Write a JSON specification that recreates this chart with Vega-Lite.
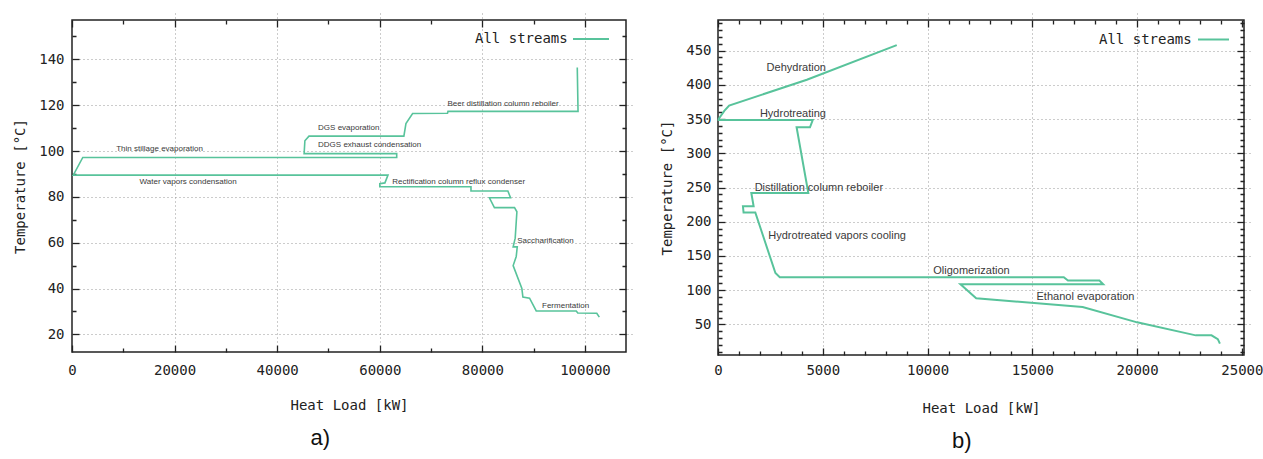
{
  "$schema": "https://vega.github.io/schema/vega-lite/v6.json",
  "background": "white",
  "padding": {"left": 12, "top": 15, "right": 0, "bottom": 0},
  "spacing": 31,
  "resolve": {"scale": {"color": "independent"}, "legend": {"color": "independent"}},
  "config": {
    "view": {"stroke": "#222", "strokeWidth": 1.5},
    "axis": {"domain": false, "ticks": true, "labelFont": "DejaVu Sans Mono", "labelFontSize": 14, "labelColor": "#222", "titleFont": "DejaVu Sans Mono", "titleFontSize": 14, "titleFontWeight": "normal", "titleColor": "#222", "tickColor": "#222", "tickWidth": 1.3, "tickSize": 7, "offset": -7, "gridColor": "#999", "gridDash": [1, 3], "gridWidth": 1, "labelFlush": false, "labelOverlap": false},
    "title": {"font": "Liberation Sans", "fontSize": 22, "fontWeight": "normal", "color": "#111", "orient": "bottom", "anchor": "middle", "frame": "bounds", "offset": 16}
  },
  "datasets": {
    "a": [
      {"i": 1, "q": 98500, "T": 136.5},
      {"i": 2, "q": 98650, "T": 117.3},
      {"i": 3, "q": 73300, "T": 117.3},
      {"i": 4, "q": 73200, "T": 116.5},
      {"i": 5, "q": 66400, "T": 116.4},
      {"i": 6, "q": 65100, "T": 112},
      {"i": 7, "q": 64700, "T": 106.5},
      {"i": 8, "q": 46200, "T": 106.5},
      {"i": 9, "q": 45400, "T": 104.5},
      {"i": 10, "q": 45250, "T": 98.9},
      {"i": 11, "q": 63300, "T": 98.9},
      {"i": 12, "q": 63300, "T": 97.2},
      {"i": 13, "q": 2100, "T": 97.2},
      {"i": 14, "q": 250, "T": 89.5},
      {"i": 15, "q": 61600, "T": 89.5},
      {"i": 16, "q": 61000, "T": 86.1},
      {"i": 17, "q": 60000, "T": 85.8},
      {"i": 18, "q": 60000, "T": 84.4},
      {"i": 19, "q": 77780, "T": 84.4},
      {"i": 20, "q": 77780, "T": 82.6},
      {"i": 21, "q": 84970, "T": 82.6},
      {"i": 22, "q": 85490, "T": 79.6},
      {"i": 23, "q": 81370, "T": 79.6},
      {"i": 24, "q": 82350, "T": 75.3},
      {"i": 25, "q": 86270, "T": 75.3},
      {"i": 26, "q": 86730, "T": 73.5},
      {"i": 27, "q": 86400, "T": 62},
      {"i": 28, "q": 86000, "T": 58.2},
      {"i": 29, "q": 86800, "T": 58.2},
      {"i": 30, "q": 86600, "T": 54},
      {"i": 31, "q": 86000, "T": 50},
      {"i": 32, "q": 87700, "T": 40},
      {"i": 33, "q": 87900, "T": 36.3},
      {"i": 34, "q": 89200, "T": 35.8},
      {"i": 35, "q": 90500, "T": 30.2},
      {"i": 36, "q": 98300, "T": 30.2},
      {"i": 37, "q": 98600, "T": 29.3},
      {"i": 38, "q": 102300, "T": 29.2},
      {"i": 39, "q": 102800, "T": 27.5}
    ],
    "la": [
      {"label": "Thin stillage evaporation", "q": 8620, "T": 101.1},
      {"label": "Water vapors condensation", "q": 13170, "T": 86.3},
      {"label": "DGS evaporation", "q": 47970, "T": 110.1},
      {"label": "DDGS exhaust condensation", "q": 47970, "T": 102.5},
      {"label": "Beer distillation column reboiler", "q": 73200, "T": 120.7},
      {"label": "Rectification column reflux condenser", "q": 62420, "T": 86.5},
      {"label": "Saccharification", "q": 86800, "T": 60.8},
      {"label": "Fermentation", "q": 91630, "T": 32.3}
    ],
    "b": [
      {"i": 1, "q": 8530, "T": 458},
      {"i": 2, "q": 4240, "T": 407.4},
      {"i": 3, "q": 530, "T": 369.7},
      {"i": 4, "q": 300, "T": 362},
      {"i": 5, "q": 30, "T": 350},
      {"i": 6, "q": 30, "T": 348.5},
      {"i": 7, "q": 4520, "T": 348.5},
      {"i": 8, "q": 4390, "T": 338},
      {"i": 9, "q": 3750, "T": 338},
      {"i": 10, "q": 4310, "T": 242},
      {"i": 11, "q": 1590, "T": 242},
      {"i": 12, "q": 1700, "T": 222.5},
      {"i": 13, "q": 1190, "T": 222.5},
      {"i": 14, "q": 1220, "T": 213.5},
      {"i": 15, "q": 1780, "T": 213.5},
      {"i": 16, "q": 2740, "T": 125},
      {"i": 17, "q": 2950, "T": 118.8},
      {"i": 18, "q": 16500, "T": 118.8},
      {"i": 19, "q": 16700, "T": 114},
      {"i": 20, "q": 18200, "T": 114},
      {"i": 21, "q": 18380, "T": 108.5},
      {"i": 22, "q": 11570, "T": 108.5},
      {"i": 23, "q": 12320, "T": 88.2},
      {"i": 24, "q": 17400, "T": 75.3},
      {"i": 25, "q": 20000, "T": 53},
      {"i": 26, "q": 22800, "T": 34},
      {"i": 27, "q": 23550, "T": 34},
      {"i": 28, "q": 23850, "T": 28.5},
      {"i": 29, "q": 23950, "T": 22}
    ],
    "lb": [
      {"label": "Dehydration", "q": 2320, "T": 424},
      {"label": "Hydrotreating", "q": 2000, "T": 357},
      {"label": "Distillation column reboiler", "q": 1750, "T": 250},
      {"label": "Hydrotreated vapors cooling", "q": 2400, "T": 179},
      {"label": "Oligomerization", "q": 10270, "T": 127.5},
      {"label": "Ethanol evaporation", "q": 15200, "T": 90.5}
    ]
  },
  "hconcat": [
    {
      "width": 554,
      "height": 332,
      "title": "a)",
      "resolve": {"axis": {"x": "independent", "y": "independent"}},
      "layer": [
        {
          "data": {"name": "a"},
          "mark": {"type": "line", "strokeWidth": 1.6},
          "encoding": {
            "x": {"field": "q", "type": "quantitative", "scale": {"domain": [0, 108000], "nice": false, "zero": false},
              "axis": {"orient": "bottom", "title": "Heat Load [kW]", "format": "d",
                "values": [0, 10000, 20000, 30000, 40000, 50000, 60000, 70000, 80000, 90000, 100000],
                "labelExpr": "datum.value % 20000 == 0 ? datum.label : ''",
                "tickDash": {"condition": {"test": "datum.value % 20000 == 0", "value": [7, 0]}, "value": [0, 3, 4, 30]},
                "grid": true,
                "gridOpacity": {"condition": {"test": "datum.value % 20000 == 0 && datum.value > 0", "value": 1}, "value": 0},
                "labelPadding": 11, "titlePadding": 21}},
            "y": {"field": "T", "type": "quantitative", "scale": {"domain": [12.3, 157.2], "nice": false, "zero": false},
              "axis": {"orient": "left", "title": "Temperature [°C]",
                "values": [20, 30, 40, 50, 60, 70, 80, 90, 100, 110, 120, 130, 140, 150],
                "labelExpr": "datum.value % 20 == 0 ? datum.label : ''",
                "tickDash": {"condition": {"test": "datum.value % 20 == 0", "value": [7, 0]}, "value": [0, 3, 4, 30]},
                "grid": true,
                "gridOpacity": {"condition": {"test": "datum.value % 20 == 0", "value": 1}, "value": 0},
                "labelPadding": 8, "titlePadding": 11}},
            "order": {"field": "i", "type": "quantitative"},
            "color": {"datum": "All streams", "type": "nominal", "scale": {"range": ["#58c39b"]},
              "legend": {"orient": "none", "legendX": 500, "legendY": 0, "title": null, "padding": 0, "labelFont": "DejaVu Sans Mono", "labelFontSize": 14, "labelColor": "#222", "symbolType": "stroke", "symbolSize": 1296, "symbolStrokeWidth": 2, "symbolStrokeColor": "#58c39b", "labelOffset": -135}}
          }
        },
        {
          "data": {"name": "la"},
          "mark": {"type": "text", "align": "left", "baseline": "middle", "font": "Liberation Sans", "fontSize": 8, "color": "#3a3a3a"},
          "encoding": {
            "x": {"field": "q", "type": "quantitative", "scale": {"domain": [0, 108000], "nice": false, "zero": false},
              "axis": {"orient": "top", "title": null, "labels": false, "grid": false,
                "values": [0, 10000, 20000, 30000, 40000, 50000, 60000, 70000, 80000, 90000, 100000],
                "tickDash": {"condition": {"test": "datum.value % 20000 == 0", "value": [7, 0]}, "value": [0, 3, 4, 30]}}},
            "y": {"field": "T", "type": "quantitative", "scale": {"domain": [12.3, 157.2], "nice": false, "zero": false},
              "axis": {"orient": "right", "title": null, "labels": false, "grid": false,
                "values": [20, 30, 40, 50, 60, 70, 80, 90, 100, 110, 120, 130, 140, 150],
                "tickDash": {"condition": {"test": "datum.value % 20 == 0", "value": [7, 0]}, "value": [0, 3, 4, 30]}}},
            "text": {"field": "label", "type": "nominal"}
          }
        }
      ]
    },
    {
      "width": 526,
      "height": 335,
      "title": "b)",
      "resolve": {"axis": {"x": "independent", "y": "independent"}},
      "layer": [
        {
          "data": {"name": "b"},
          "mark": {"type": "line", "strokeWidth": 2},
          "encoding": {
            "x": {"field": "q", "type": "quantitative", "scale": {"domain": [0, 25100], "nice": false, "zero": false},
              "axis": {"orient": "bottom", "title": "Heat Load [kW]", "format": "d",
                "values": [0, 1000, 2000, 3000, 4000, 5000, 6000, 7000, 8000, 9000, 10000, 11000, 12000, 13000, 14000, 15000, 16000, 17000, 18000, 19000, 20000, 21000, 22000, 23000, 24000, 25000],
                "labelExpr": "datum.value % 5000 == 0 ? datum.label : ''",
                "tickDash": {"condition": {"test": "datum.value % 5000 == 0", "value": [7, 0]}, "value": [0, 3, 4, 30]},
                "grid": true,
                "gridOpacity": {"condition": {"test": "datum.value % 5000 == 0 && datum.value > 0 && datum.value < 25000", "value": 1}, "value": 0},
                "labelPadding": 8, "titlePadding": 24}},
            "y": {"field": "T", "type": "quantitative", "scale": {"domain": [5.3, 494.7], "nice": false, "zero": false},
              "axis": {"orient": "left", "title": "Temperature [°C]",
                "values": [10, 20, 30, 40, 50, 60, 70, 80, 90, 100, 110, 120, 130, 140, 150, 160, 170, 180, 190, 200, 210, 220, 230, 240, 250, 260, 270, 280, 290, 300, 310, 320, 330, 340, 350, 360, 370, 380, 390, 400, 410, 420, 430, 440, 450, 460, 470, 480, 490],
                "labelExpr": "datum.value % 50 == 0 ? datum.label : ''",
                "tickDash": {"condition": {"test": "datum.value % 50 == 0", "value": [7, 0]}, "value": [0, 3, 4, 30]},
                "grid": true,
                "gridOpacity": {"condition": {"test": "datum.value % 50 == 0", "value": 1}, "value": 0},
                "labelPadding": 7, "titlePadding": 11}},
            "order": {"field": "i", "type": "quantitative"},
            "color": {"datum": "All streams", "type": "nominal", "scale": {"range": ["#58c39b"]},
              "legend": {"orient": "none", "legendX": 479, "legendY": 3, "title": null, "padding": 0, "labelFont": "DejaVu Sans Mono", "labelFontSize": 14, "labelColor": "#222", "symbolType": "stroke", "symbolSize": 961, "symbolStrokeWidth": 2, "symbolStrokeColor": "#58c39b", "labelOffset": -131}}
          }
        },
        {
          "data": {"name": "lb"},
          "mark": {"type": "text", "align": "left", "baseline": "middle", "font": "Liberation Sans", "fontSize": 11, "color": "#3a3a3a"},
          "encoding": {
            "x": {"field": "q", "type": "quantitative", "scale": {"domain": [0, 25100], "nice": false, "zero": false},
              "axis": {"orient": "top", "title": null, "labels": false, "grid": false,
                "values": [0, 1000, 2000, 3000, 4000, 5000, 6000, 7000, 8000, 9000, 10000, 11000, 12000, 13000, 14000, 15000, 16000, 17000, 18000, 19000, 20000, 21000, 22000, 23000, 24000, 25000],
                "tickDash": {"condition": {"test": "datum.value % 5000 == 0", "value": [7, 0]}, "value": [0, 3, 4, 30]}}},
            "y": {"field": "T", "type": "quantitative", "scale": {"domain": [5.3, 494.7], "nice": false, "zero": false},
              "axis": {"orient": "right", "title": null, "labels": false, "grid": false,
                "values": [10, 20, 30, 40, 50, 60, 70, 80, 90, 100, 110, 120, 130, 140, 150, 160, 170, 180, 190, 200, 210, 220, 230, 240, 250, 260, 270, 280, 290, 300, 310, 320, 330, 340, 350, 360, 370, 380, 390, 400, 410, 420, 430, 440, 450, 460, 470, 480, 490],
                "tickDash": {"condition": {"test": "datum.value % 50 == 0", "value": [7, 0]}, "value": [0, 3, 4, 30]}}},
            "text": {"field": "label", "type": "nominal"}
          }
        }
      ]
    }
  ]
}
